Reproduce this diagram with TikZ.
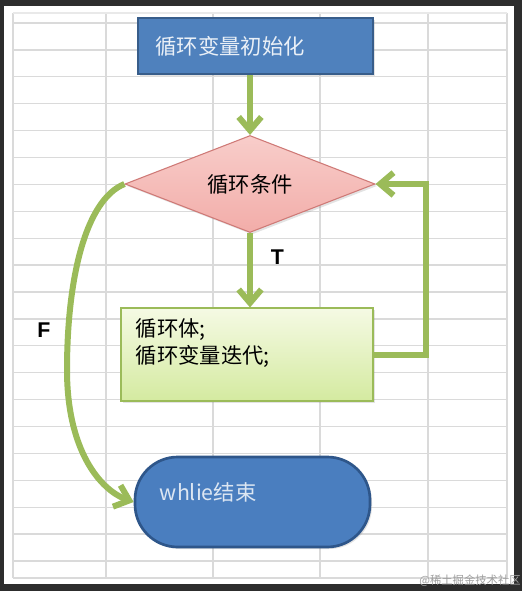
\documentclass[tikz,border=0pt]{standalone}
\usepackage{fontspec}
\usetikzlibrary{arrows.meta, shapes.geometric, shadows, positioning}
\newfontfamily\cjk{Noto Sans CJK SC}
\newfontfamily\arial{Liberation Sans}
\definecolor{loopblue}{HTML}{4F81BD}
\definecolor{loopblueborder}{HTML}{385D8A}
\definecolor{loopgreen}{HTML}{9BBB59}
\definecolor{loopred}{HTML}{CF7A77}
\definecolor{looppinktop}{HTML}{F8CDCA}
\definecolor{looppinkbottom}{HTML}{F2ADA9}
\definecolor{gridgray}{HTML}{DADADA}
\definecolor{framegray}{HTML}{2D2D2D}

\begin{document}
\begin{tikzpicture}[x=0.75pt, y=-0.75pt,
    flow/.style={draw=loopgreen, line width=4.5pt, -{Straight Barb[length=10pt, width=17pt]}},
    cjktext/.style={font=\cjk\fontsize{16}{20.25}\selectfont},
    soft/.style={drop shadow={opacity=0.22, shadow xshift=1.5pt, shadow yshift=-1.5pt}},
    lbl/.style={font=\arial\fontsize{16}{19}\bfseries\selectfont, text=black}]
      \useasboundingbox (0,0) rectangle (522,591);
      \fill[framegray] (0,0) rectangle (522,591);
      \fill[white] (4,6) rectangle (514,584);

      % sheet grid
      \foreach \x in {13,106,213,320,428,507} {
        \draw[gridgray, line width=1pt] (\x,13) -- (\x,578);
      }
      \foreach \k in {0,...,20} {
        \draw[gridgray, line width=1pt] (13,23+26.9*\k) -- (507,23+26.9*\k);
      }
      \draw[gridgray!60, line width=1pt] (13,13) -- (507,13);
      \draw[gridgray, line width=1pt] (13,578) -- (507,578);

      % boxes
      \node[cjktext, soft, rectangle, fill=loopblue, draw=loopblueborder, line width=1.2pt,
        minimum height=42pt, text width=150pt, inner xsep=13.1pt, align=left,
        text=white!88!loopblue] (init) at (255.5,46) {循环变量初始化};

      \node[cjktext, soft, diamond, aspect=2.58, top color=looppinktop, bottom color=looppinkbottom,
        draw=loopred, line width=0.8pt, minimum width=187.5pt, minimum height=72.75pt,
        inner sep=0pt] (cond) at (250,184) {循环条件};

      \node[rectangle, soft, top color={rgb,255:red,245;green,250;blue,228},
        bottom color={rgb,255:red,212;green,234;blue,160},
        draw=loopgreen, line width=0.8pt,
        minimum width=189pt, minimum height=69.75pt] (body) at (247,354.5) {};
      \node[cjktext, anchor=north west, align=left, inner sep=0pt]
        (bodytxt) at ([shift={(15,11)}]body.north west) {循环体;\\循环变量迭代;};

      \node[rectangle, soft, rounded corners=32pt, fill={rgb,255:red,74;green,126;blue,191},
        draw={rgb,255:red,46;green,86;blue,138}, line width=2pt,
        minimum width=176.25pt, minimum height=67.5pt] (stop) at (252.5,502) {};
      \node[cjktext, anchor=west, inner sep=0pt, text={rgb,255:red,220;green,230;blue,242}]
        (stoptxt) at ([shift={(26,-10)}]stop.west) {whlie结束};

      % connectors
      \coordinate (fbend) at (67,370);
      \draw[flow] (init.south -| cond.north) -- (cond.north);
      \draw[flow] (cond.south) -- (cond.south |- body.north)
        node[lbl, pos=0.33, right=10pt] (tlabel) {T};
      \draw[flow] (body.east) -- ++(52,0) |- (cond.east);
      \draw[flow] (cond.west) .. controls (85,200) and (67,280) .. (fbend)
        .. controls (67,450) and (100,490) .. (stop.west);
      \node[lbl] (flabel) at (44,330) {F};

      \node[anchor=east, inner sep=0pt, text=gray!75, font=\cjk\fontsize{8.5}{10}\selectfont]
        (mark) at (521,581) {@稀土掘金技术社区};
\end{tikzpicture}
\end{document}
